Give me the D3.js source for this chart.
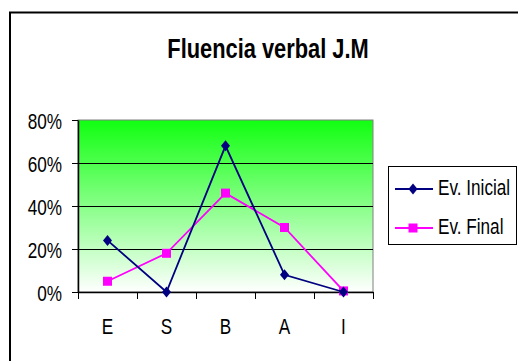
<!DOCTYPE html>
<html>
<head>
<meta charset="utf-8">
<script src="https://cdn.jsdelivr.net/npm/d3@7/dist/d3.min.js"></script>
<style>
html,body{margin:0;padding:0;background:#fff;}
svg{display:block;}
text{font-family:"Liberation Sans",Arial,sans-serif;fill:#000;}
</style>
</head>
<body>
<svg id="c" width="518" height="361"></svg>
<script>
const categories = ["E", "S", "B", "A", "I"];
const evInicial = [0.24, 0.00, 0.68, 0.08, 0.00];
const evFinal = [0.05, 0.18, 0.46, 0.30, 0.005];
const yTicks = [0, 0.2, 0.4, 0.6, 0.8];
const seriesNames = ["Ev. Inicial", "Ev. Final"];
const title = "Fluencia verbal J.M";

const svg = d3.select("#c");
const SX = 0.78;
const plot = {left: 78, right: 373, top: 120, bottom: 292};

// outer chart border
svg.append("rect").attr("x", 10).attr("y", 12.5).attr("width", 540).attr("height", 400)
  .attr("fill", "none").attr("stroke", "#000").attr("stroke-width", 2);

// title
svg.append("text").attr("transform", `translate(268,58) scale(${SX},1)`)
  .attr("text-anchor", "middle").attr("font-size", 28).attr("font-weight", "bold").text(title);

const x = d3.scaleBand().domain(categories).range([plot.left, plot.right]);
const y = d3.scaleLinear().domain([0, 0.8]).range([plot.bottom, plot.top]);

// gradient
const defs = svg.append("defs");
const grad = defs.append("linearGradient").attr("id", "g").attr("x1", 0).attr("y1", 0).attr("x2", 0).attr("y2", 1);
grad.append("stop").attr("offset", "0%").attr("stop-color", "#11ff11");
grad.append("stop").attr("offset", "100%").attr("stop-color", "#ffffff");

svg.append("rect").attr("x", plot.left).attr("y", plot.top)
  .attr("width", plot.right - plot.left).attr("height", plot.bottom - plot.top)
  .attr("fill", "url(#g)").attr("stroke", "#808080").attr("stroke-width", 1);

// gridlines
svg.append("g").selectAll("line").data(yTicks.filter(d => d > 0 && d < 0.8)).join("line")
  .attr("x1", plot.left).attr("x2", plot.right)
  .attr("y1", d => Math.round(y(d)) + 0.5).attr("y2", d => Math.round(y(d)) + 0.5)
  .attr("stroke", "#000").attr("stroke-width", 1);

// y axis
const yAxis = svg.append("g").attr("transform", `translate(${plot.left},0)`)
  .call(d3.axisLeft(y).tickValues(yTicks).tickFormat(d3.format(".0%")).tickSizeInner(6).tickSizeOuter(0));
yAxis.select(".domain").attr("stroke", "#000").attr("stroke-width", 1.5);
yAxis.selectAll(".tick line").attr("stroke", "#000");
yAxis.selectAll(".tick text").attr("font-size", 22).attr("font-family", "Liberation Sans, Arial, sans-serif")
  .attr("fill", "#000").attr("x", 0).attr("dy", 0).attr("y", 0)
  .attr("transform", `translate(-16,8) scale(${SX},1)`);

// x axis
const xAxis = svg.append("g").attr("transform", `translate(0,${plot.bottom})`)
  .call(d3.axisBottom(x).tickSize(0).tickSizeOuter(0));
xAxis.select(".domain").attr("stroke", "#000").attr("stroke-width", 1.5);
xAxis.selectAll(".tick text").attr("font-size", 22).attr("font-family", "Liberation Sans, Arial, sans-serif")
  .attr("fill", "#000").attr("y", 0).attr("dy", 0)
  .attr("transform", `translate(0,42) scale(${SX},1)`);
// category boundary ticks
const bounds = categories.map(c => x(c)).concat([x(categories[categories.length - 1]) + x.bandwidth()]);
svg.append("g").selectAll("line").data(bounds).join("line")
  .attr("x1", d => Math.round(d) + 0.5).attr("x2", d => Math.round(d) + 0.5)
  .attr("y1", plot.bottom).attr("y2", plot.bottom + 7).attr("stroke", "#000");

const cx = c => x(c) + x.bandwidth() / 2;
const line = d3.line().x((d, i) => cx(categories[i])).y(d => y(d));
const diamond = "M0,-5.5L4.5,0L0,5.5L-4.5,0Z";

// Ev. Final
svg.append("path").datum(evFinal).attr("d", line).attr("fill", "none").attr("stroke", "#ff00ff").attr("stroke-width", 1.8);
svg.append("g").selectAll("rect").data(evFinal).join("rect")
  .attr("x", (d, i) => cx(categories[i]) - 4.5).attr("y", d => y(d) - 4.5)
  .attr("width", 9).attr("height", 9).attr("fill", "#ff00ff");

// Ev. Inicial
svg.append("path").datum(evInicial).attr("d", line).attr("fill", "none").attr("stroke", "#000080").attr("stroke-width", 1.8);
svg.append("g").selectAll("path").data(evInicial).join("path")
  .attr("d", diamond).attr("transform", (d, i) => `translate(${cx(categories[i])},${y(d)})`).attr("fill", "#000080");

// legend
const lg = svg.append("g");
lg.append("rect").attr("x", 388.5).attr("y", 166.5).attr("width", 128).attr("height", 78)
  .attr("fill", "#fff").attr("stroke", "#000").attr("stroke-width", 1);
const colors = ["#000080", "#ff00ff"];
const ly = [189, 228];
seriesNames.forEach((name, i) => {
  lg.append("line").attr("x1", 395).attr("x2", 433).attr("y1", ly[i]).attr("y2", ly[i])
    .attr("stroke", colors[i]).attr("stroke-width", 1.8);
  if (i === 0) {
    lg.append("path").attr("d", diamond).attr("transform", `translate(413,${ly[i]})`).attr("fill", colors[i]);
  } else {
    lg.append("rect").attr("x", 413 - 4.5).attr("y", ly[i] - 4.5).attr("width", 9).attr("height", 9).attr("fill", colors[i]);
  }
  lg.append("text").attr("transform", `translate(438,${ly[i] + 6}) scale(${SX},1)`)
    .attr("font-size", 22).text(name);
});
</script>
</body>
</html>
